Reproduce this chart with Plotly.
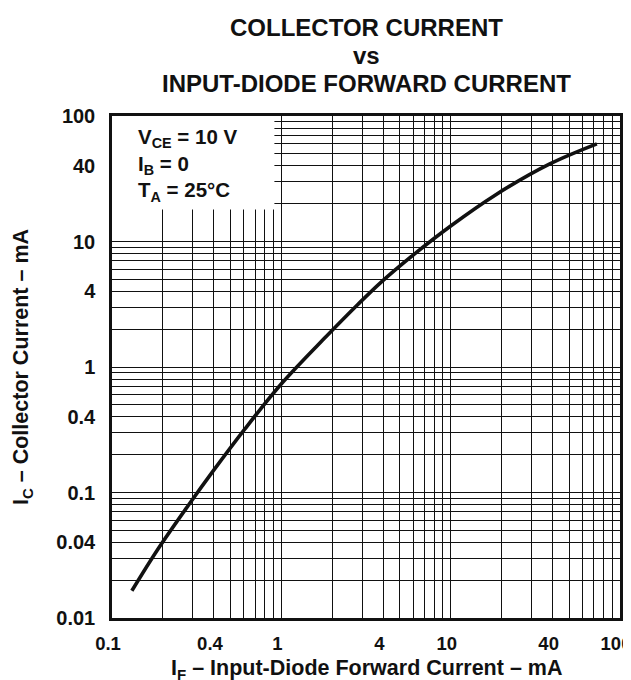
import plotly.graph_objects as go

# Data
if_ma = [0.131, 0.187, 0.286, 0.395, 0.608, 1.01, 1.84, 2.81, 3.86, 6.0, 10.0, 18.2, 38.5, 73.0]
ic_ma = [0.0165, 0.0355, 0.081, 0.148, 0.32, 0.745, 1.75, 3.12, 4.71, 7.8, 13.3, 23.3, 41.5, 60.0]

x_tickvals = [0.1, 0.4, 1, 4, 10, 40, 100]
x_ticktext = ["0.1", "0.4", "1", "4", "10", "40", "100"]
y_tickvals = [0.01, 0.04, 0.1, 0.4, 1, 4, 10, 40, 100]
y_ticktext = ["0.01", "0.04", "0.1", "0.4", "1", "4", "10", "40", "100"]
x_grid = [m * 10 ** e for e in (-1, 0, 1) for m in range(1, 10)] + [100]
y_grid = [m * 10 ** e for e in (-2, -1, 0, 1) for m in range(1, 10)] + [100]

title_lines = ["COLLECTOR CURRENT", "vs", "INPUT-DIODE FORWARD CURRENT"]
x_title = "I<sub>F</sub> – Input-Diode Forward Current – mA"
y_title = "I<sub>C</sub> – Collector Current – mA"

FONT = "Liberation Sans, Arial, sans-serif"
GRID = dict(showgrid=True, gridcolor="#111", gridwidth=1.1)

fig = go.Figure()
fig.add_trace(go.Scatter(
    x=if_ma, y=ic_ma, mode="lines",
    line=dict(color="#111", width=3.6, shape="spline", smoothing=1.0),
    showlegend=False, hoverinfo="skip",
))

# white box behind the conditions text (covers grid)
fig.add_shape(type="rect", xref="x", yref="y", x0=0.1, x1=0.91, y0=18, y1=100,
              fillcolor="white", line=dict(width=0), layer="between")

fig.add_annotation(
    xref="paper", yref="paper", x=0.048, y=0.987, xanchor="left", yanchor="top",
    align="left", showarrow=False,
    text="V<sub>CE</sub> = 10 V<br>I<sub>B</sub> = 0<br>T<sub>A</sub> = 25°C",
    font=dict(family=FONT, size=20.5, color="#111", weight="bold"),
)

for txt, yp in zip(title_lines, [1.1753, 1.1215, 1.0657]):
    fig.add_annotation(
        xref="paper", yref="paper", x=0.5, y=yp, xanchor="center", yanchor="middle",
        showarrow=False, text=txt,
        font=dict(family=FONT, size=24, color="#111", weight="bold"),
    )

# x-axis title as annotation
fig.add_annotation(
    xref="paper", yref="paper", x=0.5, y=-0.102, xanchor="center", yanchor="middle",
    showarrow=False, text=x_title,
    font=dict(family=FONT, size=21.5, color="#111", weight="bold"),
)

fig.update_layout(
    width=631, height=680,
    margin=dict(l=104, r=19, t=108, b=70, autoexpand=False),
    paper_bgcolor="white", plot_bgcolor="white",
    font=dict(family=FONT, color="#111", weight="bold"),
)

fig.update_xaxes(
    type="log", range=[-1, 2], tickmode="array", tickvals=x_tickvals, ticktext=x_ticktext,
    minor=dict(tickmode="array", tickvals=x_grid, ticks="", **GRID),
    **GRID, automargin=False,
    showline=True, linecolor="#111", linewidth=2.5, mirror=True,
    ticks="", ticklabelstandoff=7, ticklabelshift=-4,
    tickfont=dict(family=FONT, size=18.5, color="#111", weight="bold"),
)
fig.update_yaxes(
    type="log", range=[-2, 2], tickmode="array", tickvals=y_tickvals, ticktext=y_ticktext,
    minor=dict(tickmode="array", tickvals=y_grid, ticks="", **GRID),
    **GRID, automargin=False,
    showline=True, linecolor="#111", linewidth=2.5, mirror=True,
    ticks="", ticklabelstandoff=10,
    tickfont=dict(family=FONT, size=20, color="#111", weight="bold"),
    title=dict(text=y_title, standoff=22,
               font=dict(family=FONT, size=21.5, color="#111", weight="bold")),
)

fig.write_html("out.html")
